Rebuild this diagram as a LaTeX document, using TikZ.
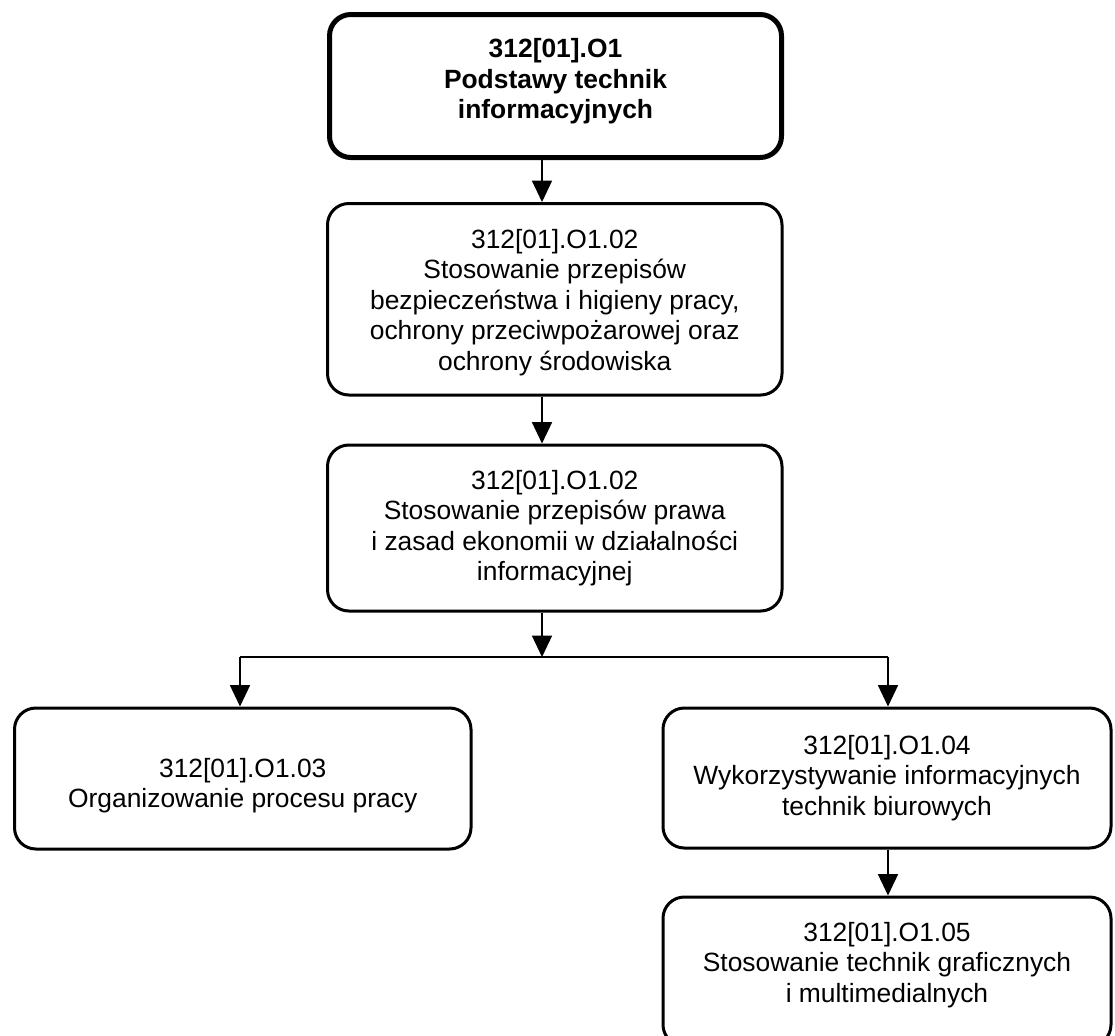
\documentclass[tikz,border=0pt]{standalone}
\usepackage{fontspec}
\setmainfont{Liberation Sans}
\usetikzlibrary{arrows.meta}
\newcommand{\mylift}[2]{\raisebox{#1}[\height][\depth]{\begin{tabular}{@{}c@{}}#2\end{tabular}}}
\tikzset{
  boxbase/.style={draw=black, rounded corners=16pt, align=center, inner sep=0pt,
    font=\fontsize{19.8}{22.9}\selectfont, text=black},
  mainbox/.style={boxbase, line width=3.75pt},
  subbox/.style={boxbase, line width=2.25pt},
  conn/.style={draw=black, line width=1.1pt},
  arr/.style={conn, -{Triangle[width=15pt,length=16pt]}}
}
\begin{document}
\begin{tikzpicture}[x=0.75pt,y=-0.75pt]
\clip (0,0) rectangle (1115,1036);
\fill[white] (0,0) rectangle (1115,1036);

\node[mainbox, minimum width=452*0.75pt, minimum height=143*0.75pt, font=\fontsize{19.8}{22.9}\selectfont\bfseries]
  (b1) at (555.5,86) {\mylift{3pt}{312[01].O1\\Podstawy technik\\informacyjnych}};
\node[subbox, minimum width=454.5*0.75pt, minimum height=191.5*0.75pt]
  (b2) at (554.75,299.25) {\mylift{-3pt}{312[01].O1.02\\Stosowanie przepisów\\bezpieczeństwa i higieny pracy,\\ochrony przeciwpożarowej oraz\\ochrony środowiska}};
\node[subbox, minimum width=454.5*0.75pt, minimum height=166*0.75pt]
  (b3) at (554.75,528) {312[01].O1.02\\Stosowanie przepisów prawa\\i zasad ekonomii w działalności\\informacyjnej};
\node[subbox, minimum width=456.5*0.75pt, minimum height=141*0.75pt]
  (b4) at (242.75,778.5) {\mylift{-6pt}{312[01].O1.03\\Organizowanie procesu pracy}};
\node[subbox, minimum width=448*0.75pt, minimum height=140*0.75pt]
  (b5) at (887,778) {312[01].O1.04\\Wykorzystywanie informacyjnych\\technik biurowych};
\node[subbox, minimum width=448*0.75pt, minimum height=149*0.75pt]
  (b6) at (887,971.5) {\mylift{4.5pt}{312[01].O1.05\\Stosowanie technik graficznych\\i multimedialnych}};

\coordinate (j) at (542,657);
\coordinate (jl) at (240,657);
\coordinate (jr) at (888,657);

\draw[arr] (b1.south -| j) -- (b2.north -| j);
\draw[arr] (b2.south -| j) -- (b3.north -| j);
\draw[arr] (b3.south -| j) -- (j);
\draw[conn] (jl) -- (jr);
\draw[arr] (jl) -- (b4.north -| jl);
\draw[arr] (jr) -- (b5.north -| jr);
\draw[arr] (b5.south -| jr) -- (b6.north -| jr);
\end{tikzpicture}
\end{document}
